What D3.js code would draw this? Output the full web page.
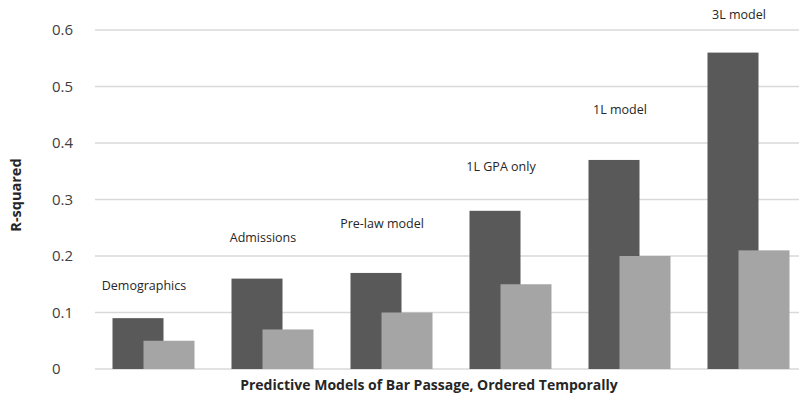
<!DOCTYPE html>
<html><head><meta charset="utf-8">
<script src="https://cdn.jsdelivr.net/npm/d3@7"></script>
<style>body{margin:0;background:#fff}svg{display:block;font-family:"Open Sans","Liberation Sans",sans-serif}</style>
</head><body><svg id="c" width="799" height="400"></svg>
<script>
const categories = ["Demographics","Admissions","Pre-law model","1L GPA only","1L model","3L model"];
const seriesA = [0.09,0.16,0.17,0.28,0.37,0.56];
const seriesB = [0.05,0.07,0.10,0.15,0.20,0.21];
const yTicks = [0,0.1,0.2,0.3,0.4,0.5,0.6];

// layout: label lift above the dark bar (px), as placed in the original
const labelLift = [33,41,49,44,50,38];

const svg = d3.select("#c");
const y = d3.scaleLinear().domain([0,0.6]).range([369,30]);
const x = d3.scaleBand().domain(categories).range([94,808]);
const step = x.step();
const barW = 51, overlap = 20;

svg.append("g").selectAll("line").data(yTicks).join("line")
  .attr("x1",95).attr("x2",799).attr("y1",d=>y(d)).attr("y2",d=>y(d))
  .attr("stroke","#d9d9d9").attr("stroke-width",1.3);

svg.append("g").selectAll("text").data(yTicks).join("text")
  .attr("x",52).attr("y",d=>y(d)).attr("dy","0.35em")
  .attr("font-size",15).attr("fill","#404040")
  .text(d=>d===0?"0":d3.format(".1f")(d));

const g = svg.append("g");
const darkX = c => x(c) + step/2 - (2*barW-overlap)/2;
g.selectAll(".a").data(categories).join("rect")
  .attr("x",c=>darkX(c)).attr("width",barW)
  .attr("y",(c,i)=>y(seriesA[i])).attr("height",(c,i)=>y(0)-y(seriesA[i]))
  .attr("fill","#595959");
g.selectAll(".b").data(categories).join("rect")
  .attr("x",c=>darkX(c)+barW-overlap).attr("width",barW)
  .attr("y",(c,i)=>y(seriesB[i])).attr("height",(c,i)=>y(0)-y(seriesB[i]))
  .attr("fill","#a5a5a5");

g.selectAll(".lab").data(categories).join("text")
  .attr("x",c=>darkX(c)+barW/2+6)
  .attr("y",(c,i)=>y(seriesA[i])-labelLift[i])
  .attr("dy","0.35em")
  .attr("text-anchor","middle").attr("font-size",12.5).attr("fill","#262626")
  .text(c=>c);

svg.append("text").attr("x",429).attr("y",385).attr("dy","0.35em")
  .attr("text-anchor","middle").attr("font-size",14).attr("font-weight","bold").attr("fill","#262626")
  .text("Predictive Models of Bar Passage, Ordered Temporally");

svg.append("text").attr("transform","translate(16,195) rotate(-90)").attr("dy","0.35em")
  .attr("text-anchor","middle").attr("font-size",14.5).attr("font-weight","bold").attr("fill","#262626")
  .text("R-squared");
</script></body></html>
